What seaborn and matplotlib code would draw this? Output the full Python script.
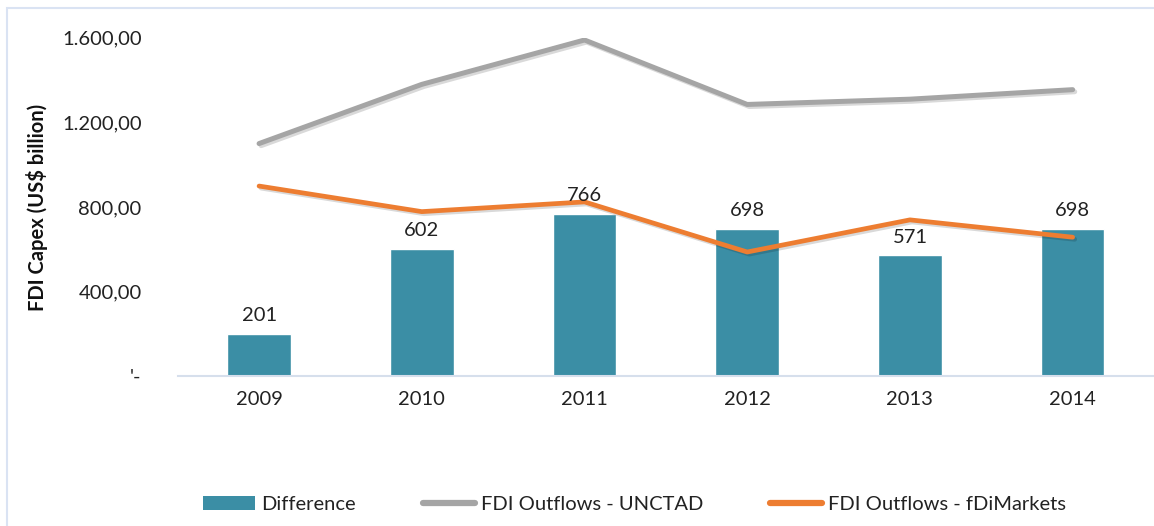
import numpy as np
import pandas as pd
import matplotlib
matplotlib.use("Agg")
import matplotlib.pyplot as plt
import matplotlib.patheffects as pe
from matplotlib.patches import Patch, Rectangle
from matplotlib.lines import Line2D
import seaborn as sns

# data
years = ["2009", "2010", "2011", "2012", "2013", "2014"]
difference = [201, 602, 766, 698, 571, 698]
unctad = [1100, 1380, 1590, 1285, 1310, 1355]
fdimarkets = [899, 778, 824, 587, 739, 657]
yticks = [0, 400, 800, 1200, 1600]
ytick_labels = ["'-", "400,00", "800,00", "1.200,00", "1.600,00"]

bar_color = "#3b8ea5"
gray = "#a5a5a5"
orange = "#ed7d31"
axis_color = "#d6dfec"

sns.set_style("white")
plt.rcParams["font.family"] = ["Lato", "DejaVu Sans"]

df = pd.DataFrame({"year": years, "diff": difference})
pos = np.arange(len(years))

fig = plt.figure(figsize=(11.54, 5.26), dpi=100)
ax = fig.add_axes([0.154, 0.285, 0.846, 0.643])

sns.barplot(data=df, x="year", y="diff", color=bar_color, width=0.39,
            saturation=1, ax=ax, zorder=2)

shadow = [pe.SimpleLineShadow(offset=(1.5, -1.5), alpha=0.15), pe.Normal()]
sns.lineplot(x=pos, y=unctad, color=gray, linewidth=3.6, ax=ax,
             sort=False, zorder=3, path_effects=shadow,
             solid_capstyle="round")
sns.lineplot(x=pos, y=fdimarkets, color=orange, linewidth=3.4, ax=ax,
             sort=False, zorder=4, path_effects=shadow,
             solid_capstyle="round")

ax.bar_label(ax.containers[0], labels=[str(v) for v in difference],
             padding=7, fontsize=14.5, color="#222222", zorder=5)

ax.set_xlim(-0.5, 5.5)
ax.set_ylim(0, 1600)
ax.set_yticks(yticks)
ax.set_yticklabels(ytick_labels)
ax.set_xlabel("")
ax.set_ylabel("FDI Capex (US$ billion)", fontsize=14.5, fontweight="bold",
              color="#111111")
ax.yaxis.set_label_coords(-0.133, 0.5)

for s in ["top", "right", "left"]:
    ax.spines[s].set_visible(False)
ax.spines["bottom"].set_color(axis_color)
ax.spines["bottom"].set_linewidth(1.5)

ax.tick_params(axis="y", length=0, labelsize=14.5, labelcolor="#222222", pad=26)
ax.tick_params(axis="x", which="major", length=0, labelsize=14.5,
               labelcolor="#222222", pad=11)
ax.set_xticks(np.arange(-0.5, 6.0, 1.0), minor=True)
ax.tick_params(axis="x", which="minor", length=7, width=1.5,
               color=axis_color, direction="out")

handles = [
    Patch(facecolor=bar_color, edgecolor="none"),
    Line2D([0], [0], color=gray, linewidth=4.5),
    Line2D([0], [0], color=orange, linewidth=4.5),
]
labels = ["Difference", "FDI Outflows - UNCTAD", "FDI Outflows - fDiMarkets"]
fig.legend(handles, labels, loc="lower center", bbox_to_anchor=(0.55, -0.01),
           ncol=3, frameon=False, fontsize=14.5, handlelength=2.6,
           handletextpad=0.3, columnspacing=3.3, labelcolor="#222222")

fig.patches.append(Rectangle((7 / 1154, -0.01), 1.1, 1 - 8 / 526 + 0.01,
                             transform=fig.transFigure, fill=False,
                             edgecolor="#dae3f3", linewidth=1.5))

fig.savefig("out.png", dpi=100)
